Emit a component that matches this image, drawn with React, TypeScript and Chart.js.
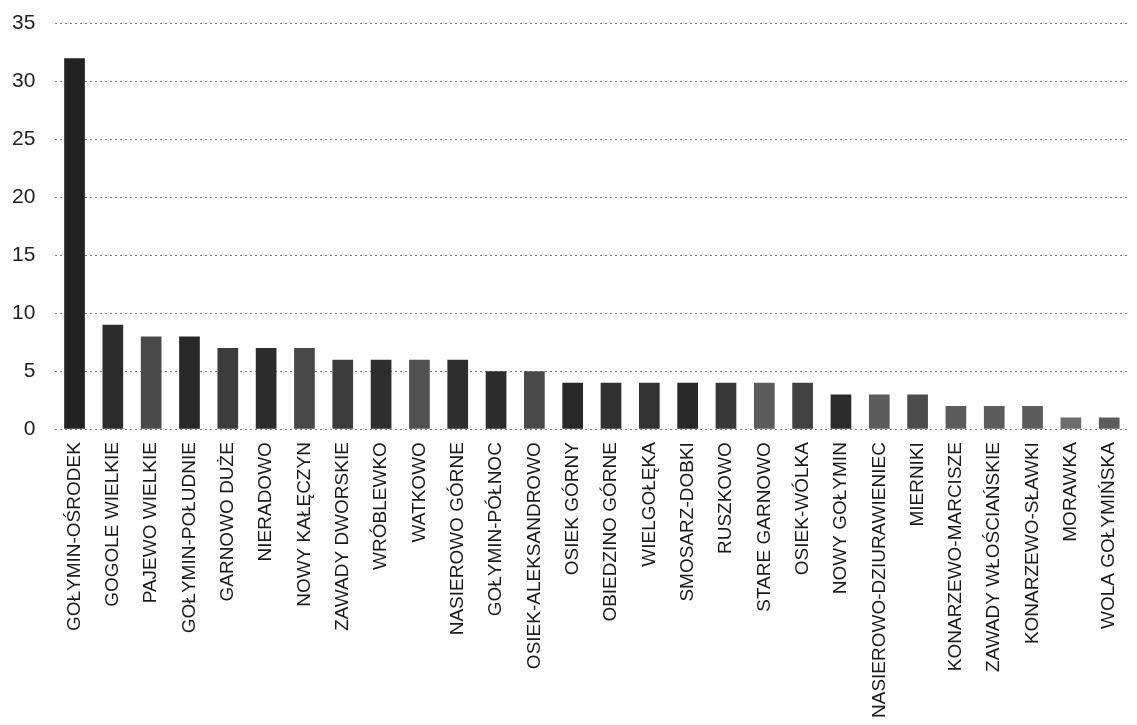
import React, { useEffect, useRef } from "react";
import { Chart, registerables } from "chart.js";

Chart.register(...registerables);

const categories: string[] = [
  "GOŁYMIN-OŚRODEK",
  "GOGOLE WIELKIE",
  "PAJEWO WIELKIE",
  "GOŁYMIN-POŁUDNIE",
  "GARNOWO DUŻE",
  "NIERADOWO",
  "NOWY KAŁĘCZYN",
  "ZAWADY DWORSKIE",
  "WRÓBLEWKO",
  "WATKOWO",
  "NASIEROWO GÓRNE",
  "GOŁYMIN-PÓŁNOC",
  "OSIEK-ALEKSANDROWO",
  "OSIEK GÓRNY",
  "OBIEDZINO GÓRNE",
  "WIELGOŁĘKA",
  "SMOSARZ-DOBKI",
  "RUSZKOWO",
  "STARE GARNOWO",
  "OSIEK-WÓLKA",
  "NOWY GOŁYMIN",
  "NASIEROWO-DZIURAWIENIEC",
  "MIERNIKI",
  "KONARZEWO-MARCISZE",
  "ZAWADY WŁOŚCIAŃSKIE",
  "KONARZEWO-SŁAWKI",
  "MORAWKA",
  "WOLA GOŁYMIŃSKA",
];

const values: number[] = [
  32, 9, 8, 8, 7, 7, 7, 6, 6, 6, 6, 5, 5, 4, 4, 4, 4, 4, 4, 4, 3, 3, 3, 2, 2, 2, 1, 1,
];

const yTicks: number[] = [0, 5, 10, 15, 20, 25, 30, 35];

const barColors: string[] = [
  "#222222", "#2c2c2c", "#4a4a4a", "#282828", "#3c3c3c", "#2c2c2c", "#484848",
  "#3c3c3c", "#2e2e2e", "#505050", "#2e2e2e", "#2c2c2c", "#4a4a4a", "#282828",
  "#303030", "#333333", "#282828", "#383838", "#5c5c5c", "#424242", "#2c2c2c",
  "#5c5c5c", "#4c4c4c", "#5c5c5c", "#5c5c5c", "#5c5c5c", "#6c6c6c", "#5c5c5c",
];

export default function App() {
  const ref = useRef<HTMLCanvasElement | null>(null);
  useEffect(() => {
    if (!ref.current) return;
    const chart = new Chart(ref.current, {
      type: "bar",
      data: {
        labels: categories,
        datasets: [
          {
            data: values,
            backgroundColor: barColors,
            borderWidth: 0,
            barPercentage: 0.54,
            categoryPercentage: 1,
          },
        ],
      },
      options: {
        animation: false,
        responsive: true,
        maintainAspectRatio: false,
        layout: { padding: { top: 3, right: 0, left: 0, bottom: 2 } },
        plugins: {
          legend: { display: false },
          tooltip: { enabled: false },
        },
        scales: {
          x: {
            grid: { display: false },
            border: { display: false },
            ticks: {
              color: "#1a1a1a",
              font: { family: "Liberation Sans", size: 19 },
              minRotation: 90,
              maxRotation: 90,
              autoSkip: false,
              padding: 5,
            },
          },
          y: {
            min: 0,
            max: 35,
            afterBuildTicks: (axis: any) => {
              axis.ticks = yTicks.map((v) => ({ value: v }));
            },
            grid: {
              color: "#7a7a7a",
              lineWidth: 1,
              drawTicks: false,
            },
            border: { display: false, dash: [2, 3] },
            ticks: {
              color: "#222222",
              font: { family: "Liberation Sans", size: 21 },
              padding: 20,
            },
          },
        },
      },
    });
    return () => chart.destroy();
  }, []);
  return (
    <div style={{ position: "fixed", left: -8, top: -9, width: 1145, height: 734, background: "#fff" }}>
      <canvas ref={ref} />
    </div>
  );
}
